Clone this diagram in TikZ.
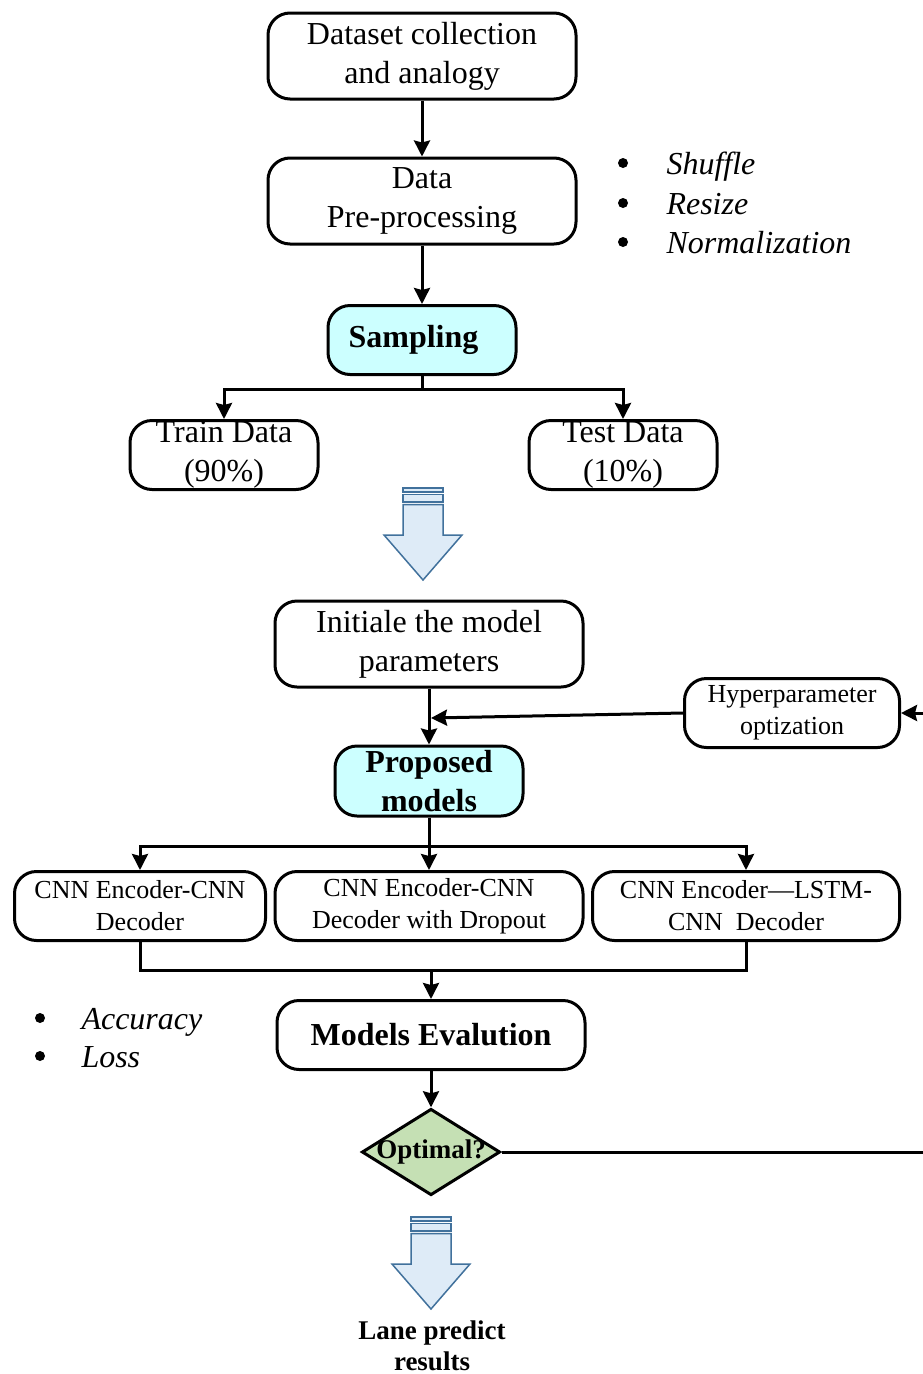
\documentclass[tikz,border=0pt]{standalone}
\usepackage{fontspec}
\setmainfont{Liberation Serif}
\usepackage{tikz}
\usetikzlibrary{shapes.geometric,arrows.meta}

\definecolor{cyanfill}{HTML}{CCFFFF}
\definecolor{optgreen}{HTML}{C5E0B4}
\definecolor{arrowblue}{HTML}{41719C}
\definecolor{arrowfill}{HTML}{DEEBF7}

\begin{document}
\begin{tikzpicture}[x=1pt,y=-1pt,>={Stealth[length=16pt,width=16pt,inset=2pt]},line width=3pt,
  box/.style={draw,rounded corners=22pt,align=center,inner sep=0pt,
    font=\fontsize{32}{39}\selectfont},
  smallbox/.style={box,font=\fontsize{26}{32}\selectfont},
  hlbox/.style={box,fill=cyanfill,font=\bfseries\fontsize{32}{39}\selectfont},
  note/.style={anchor=base west,inner sep=0pt,font=\itshape\fontsize{32}{39}\selectfont},
  dot/.style={circle,fill,inner sep=0pt,minimum size=10pt}]
\useasboundingbox (0,0) rectangle (923,1374);

% upper part
\node[box,minimum width=308pt,minimum height=86pt] (dataset) at (422,56) {Dataset collection\\and analogy};
\node[box,minimum width=308pt,minimum height=86pt] (prep) at (422,201) {Data\\Pre-processing};
\node[hlbox,minimum width=188pt,minimum height=69pt] (samp) at (422,340) {Sampling\hspace*{17pt}};
\node[box,minimum width=188pt,minimum height=69pt] (train) at (224,455) {Train Data\\(90\%)};
\node[box,minimum width=188pt,minimum height=69pt] (test) at (623,455) {Test Data\\(10\%)};

\foreach \y/\w [count=\i] in {163/Shuffle,203/Resize,242/Normalization} {
  \node[dot] (predot\i) at (623,\y) {};
  \node[note] (pre\i) at (665,\y+11) {\w};
}

\draw[->] (dataset) -- (prep);
\draw[->] (prep) -- (samp);
\coordinate (sampsplit) at (422,389);
\draw (samp.south) -- (sampsplit);
\draw[->] (sampsplit) -| (train.north);
\draw[->] (sampsplit) -| (test.north);

% hollow arrows
\foreach \x/\y in {423/488,431/1217} {
  \begin{scope}[shift={(\x,\y)},line width=1.5pt,draw=arrowblue,fill=arrowfill]
    \filldraw (-20,0) rectangle (20,4);
    \filldraw (-20,6.5) rectangle (20,14);
    \filldraw (-20,16.5) -- (20,16.5) -- (20,47) -- (39,47) -- (0,92) -- (-39,47) -- (-20,47) -- cycle;
  \end{scope}
}

% models
\node[box,minimum width=308pt,minimum height=86pt] (init) at (429,644) {Initiale the model\\parameters};
\node[hlbox,minimum width=188pt,minimum height=70pt] (prop) at (429,781) {Proposed\\models};
\node[smallbox,minimum width=215pt,minimum height=69pt] (hyp) at (792,713) {Hyperparameter\\optization};

\node[smallbox,minimum width=251pt,minimum height=69pt] (cnnA) at (140,906) {CNN Encoder-CNN\\Decoder};
\node[smallbox,minimum width=308pt,minimum height=69pt] (cnnB) at (429,906) {CNN Encoder-CNN\\Decoder with Dropout};
\node[smallbox,minimum width=307pt,minimum height=69pt] (cnnC) at (746,906) {CNN Encoder—LSTM-\\CNN\ \ Decoder};

\draw[->] (init) -- (prop);
\coordinate (hypjoin) at (431,718);
\draw[->] (hyp.west) -- (hypjoin);

\coordinate (propsplit) at (429,846);
\draw (prop.south) -- (propsplit);
\draw[->] (propsplit) -| (cnnA.north);
\draw[->] (propsplit) -- (cnnB.north);
\draw[->] (propsplit) -| (cnnC.north);

\coordinate (mergeL) at (140,970);
\coordinate (mergeR) at (746,970);
\coordinate (merge) at (431,970);
\draw (cnnA.south) -- (mergeL) -- (mergeR) -- (cnnC.south);

% evaluation
\node[box,font=\bfseries\fontsize{32}{39}\selectfont,minimum width=308pt,minimum height=69pt] (eval) at (431,1035) {Models Evalution};
\draw[->] (merge) -- (eval.north);

\foreach \y/\w [count=\i] in {1018/Accuracy,1056/Loss} {
  \node[dot] (evdot\i) at (40,\y) {};
  \node[note] (ev\i) at (80,\y+11) {\w};
}

\node[diamond,draw,fill=optgreen,aspect=1.6,inner sep=-2pt,
  font=\bfseries\fontsize{27}{30}\selectfont] (opt) at (431,1152) {Optimal?};
\draw[->] (eval) -- (opt);

\coordinate (loopcorner) at (935,1152);
\draw[->] (opt.east) -- (loopcorner) |- (hyp.east);

\node[align=center,inner sep=0pt,font=\bfseries\fontsize{27}{31}\selectfont] (result) at (432,1346) {Lane predict\\results};
\end{tikzpicture}
\end{document}
